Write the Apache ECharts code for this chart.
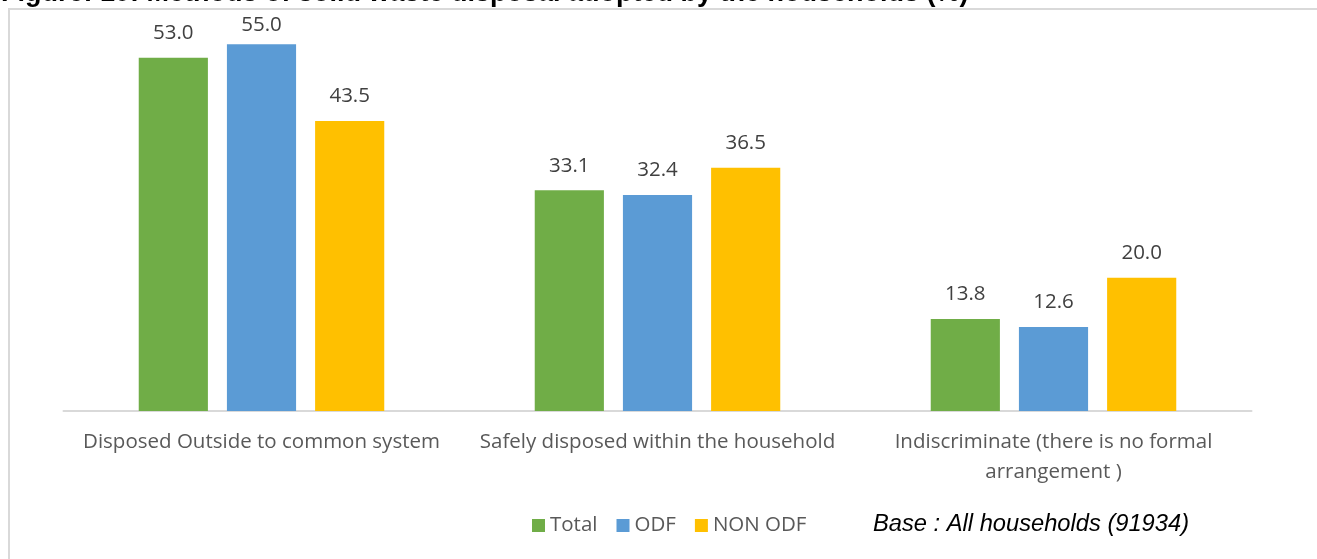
<!DOCTYPE html>
<html>
<head>
<meta charset="utf-8">
<title>Methods of solid waste disposal adopted by the households</title>
<script src="https://cdn.jsdelivr.net/npm/echarts@6/dist/echarts.min.js"></script>
<style>
  html, body { margin: 0; padding: 0; background: #ffffff; }
  #chart { width: 1317px; height: 559px; }
</style>
</head>
<body>
<div id="chart"></div>
<script>
// Disposal methods (x-axis categories)
const categories = [
  'Disposed Outside to common system',
  'Safely disposed within the household',
  'Indiscriminate (there is no formal\narrangement )'
];
// Share of households (%) per group
const seriesNames = ['Total', 'ODF', 'NON ODF'];
const totalValues = [53.0, 33.1, 13.8];
const odfValues = [55.0, 32.4, 12.6];
const nonOdfValues = [43.5, 36.5, 20.0];

const titleText = 'Figure: 10: Methods of solid waste disposal adopted by the households (%)';
const baseNote = 'Base : All households (91934)';

const colors = ['#70ad47', '#5b9bd5', '#ffc000'];
const labelFont = '"Open Sans", "Noto Sans", sans-serif';
const yMax = 60;

const chart = echarts.init(document.getElementById('chart'), null, { renderer: 'canvas' });

// Labels of bars that reach close to the top of the plot are pulled in a bit
// so they stay inside the chart frame.
function toData(values) {
  return values.map(v => (v > yMax - 6 ? { value: v, label: { distance: 9 } } : v));
}

function barSeries(name, values, color) {
  return {
    name: name,
    type: 'bar',
    data: toData(values),
    barGap: '27.5%',
    barCategoryGap: '38%',
    itemStyle: { color: color },
    label: {
      show: true,
      position: 'top',
      distance: 14,
      formatter: p => Number(p.value).toFixed(1),
      color: '#404040',
      fontFamily: labelFont,
      fontSize: 20.5
    }
  };
}

chart.setOption({
  animation: false,
  color: colors,
  grid: { left: 63.5, right: 65.5, top: 11, bottom: 148, containLabel: false },
  xAxis: {
    type: 'category',
    data: categories,
    axisLine: { lineStyle: { color: '#d9d9d9', width: 2 } },
    axisTick: { show: false },
    axisLabel: {
      color: '#595959',
      fontFamily: labelFont,
      fontSize: 20.5,
      lineHeight: 30,
      margin: 16,
      interval: 0
    }
  },
  yAxis: {
    type: 'value',
    min: 0,
    max: yMax,
    interval: 10,
    show: false
  },
  legend: {
    data: seriesNames,
    left: 527,
    top: 510,
    itemWidth: 13,
    itemHeight: 13,
    itemGap: 19,
    icon: 'rect',
    textStyle: { color: '#595959', fontFamily: labelFont, fontSize: 20.5 }
  },
  graphic: [
    {
      type: 'rect',
      shape: { x: 9, y: 9, width: 1400, height: 700 },
      style: { fill: 'none', stroke: '#d9d9d9', lineWidth: 2 },
      silent: true
    },
    {
      type: 'text',
      x: 1,
      y: -20,
      style: {
        text: titleText,
        font: 'bold 27px "Liberation Sans", Arial, sans-serif',
        fill: '#000000'
      }
    },
    {
      type: 'text',
      left: 873,
      top: 512,
      style: {
        text: baseNote,
        font: 'italic 23.7px "Liberation Sans", Arial, sans-serif',
        fill: '#000000'
      }
    }
  ],
  series: [
    barSeries(seriesNames[0], totalValues, colors[0]),
    barSeries(seriesNames[1], odfValues, colors[1]),
    barSeries(seriesNames[2], nonOdfValues, colors[2])
  ]
});
</script>
</body>
</html>
